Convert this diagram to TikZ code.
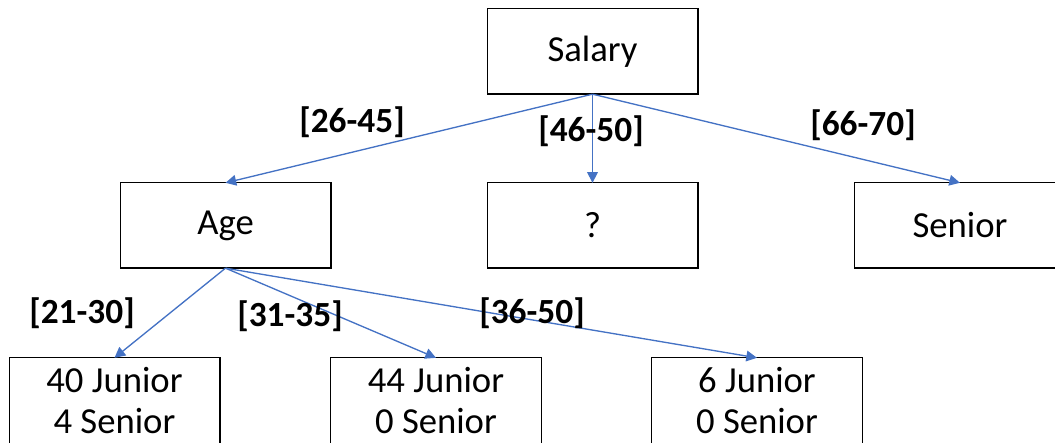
\documentclass[tikz,border=0pt]{standalone}
\usepackage[rgb]{xcolor}
\usepackage{fontspec}
\setmainfont{Carlito}
\usetikzlibrary{arrows.meta}

\definecolor{edgeblue}{HTML}{4472C4}

\begin{document}
\begin{tikzpicture}[x=0.75pt, y=0.75pt,
  box/.style={draw=black, line width=1pt, minimum width=158pt, minimum height=64pt,
    inner sep=0pt, outer sep=0pt, align=center, font=\fontsize{27.5}{30.75}\selectfont},
  branch/.style={draw=edgeblue, line width=1pt, -{Triangle[length=8pt,width=8pt]}},
  interval/.style={font=\fontsize{26.5}{30}\selectfont\bfseries}]

\useasboundingbox (0,0) rectangle (1055,442);
\clip (0,0) rectangle (1055,442);

%
% Root split on salary
%
\node[box] (salary) at (592.5,390.5) {Salary};

\node[box] (age)    at (225.5,216.5) {Age};
\node[box] (unknown) at (592.5,216.5) {?};
\node[box] (senior) at (960,216.5)   {Senior};

\draw[branch] (salary.south) -- (age.north);
\draw[branch] (salary.south) -- (unknown.north);
\draw[branch] (salary.south) -- (senior.north);

\path 
(352,320) node[interval] (r2645) {[26-45]};
\path 
(591,311) node[interval] (r4650) {[46-50]};
\path 
(863,317) node[interval] (r6670) {[66-70]};

%
% Second split on age
%
\node[box] (leafa) at (114.5,41.5) {40 Junior\\4 Senior};
\node[box] (leafb) at (436,41.5)   {44 Junior\\0 Senior};
\node[box] (leafc) at (757,41.5)   {6 Junior\\0 Senior};

\draw[branch] (age.south) -- (leafa.north);
\draw[branch] (age.south) -- (leafb.north);
\draw[branch] (age.south) -- (leafc.north);

\path 
(82,129) node[interval] (r2130) {[21-30]};
\path 
(290,126) node[interval] (r3135) {[31-35]};
\path 
(532,129) node[interval] (r3650) {[36-50]};

\end{tikzpicture}
\end{document}
